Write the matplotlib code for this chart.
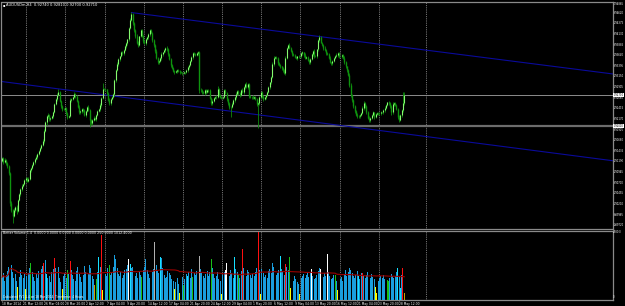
import numpy as np
import matplotlib
matplotlib.use("Agg")
import matplotlib.pyplot as plt
import matplotlib.transforms as mtransforms

# ---------------- data ----------------
first_open = 0.9120
close = [
 0.9126, 0.9116, 0.9121, 0.9114, 0.9107, 0.9091, 0.9022, 0.9006, 0.8992, 0.9006,
 0.9013, 0.9004, 0.9029, 0.9043, 0.9054, 0.9061, 0.9066, 0.9075, 0.9080, 0.9073,
 0.9077, 0.9098, 0.9103, 0.9110, 0.9116, 0.9123, 0.9128, 0.9135, 0.9142, 0.9149,
 0.9156, 0.9165, 0.9188, 0.9208, 0.9222, 0.9225, 0.9215, 0.9218, 0.9222, 0.9231,
 0.9250, 0.9261, 0.9271, 0.9277, 0.9257, 0.9245, 0.9238, 0.9238, 0.9241, 0.9229,
 0.9220, 0.9222, 0.9259, 0.9261, 0.9266, 0.9273, 0.9268, 0.9257, 0.9243, 0.9231,
 0.9234, 0.9238, 0.9236, 0.9225, 0.9234, 0.9243, 0.9236, 0.9213, 0.9206, 0.9213,
 0.9218, 0.9215, 0.9225, 0.9234, 0.9238, 0.9248, 0.9264, 0.9284, 0.9284, 0.9284,
 0.9275, 0.9259, 0.9252, 0.9261, 0.9266, 0.9273, 0.9305, 0.9328, 0.9342, 0.9353,
 0.9360, 0.9369, 0.9367, 0.9374, 0.9383, 0.9390, 0.9399, 0.9425, 0.9445, 0.9457,
 0.9436, 0.9420, 0.9408, 0.9392, 0.9386, 0.9406, 0.9420, 0.9408, 0.9395, 0.9390,
 0.9399, 0.9404, 0.9411, 0.9420, 0.9415, 0.9397, 0.9386, 0.9372, 0.9356, 0.9346,
 0.9349, 0.9356, 0.9365, 0.9369, 0.9374, 0.9379, 0.9376, 0.9365, 0.9353, 0.9340,
 0.9333, 0.9326, 0.9323, 0.9326, 0.9328, 0.9326, 0.9323, 0.9323, 0.9321, 0.9323,
 0.9323, 0.9328, 0.9335, 0.9340, 0.9349, 0.9358, 0.9367, 0.9365, 0.9363, 0.9367,
 0.9369, 0.9282, 0.9282, 0.9277, 0.9275, 0.9282, 0.9277, 0.9282, 0.9282, 0.9264,
 0.9252, 0.9257, 0.9264, 0.9266, 0.9266, 0.9284, 0.9271, 0.9266, 0.9264, 0.9266,
 0.9282, 0.9275, 0.9261, 0.9252, 0.9243, 0.9243, 0.9250, 0.9259, 0.9266, 0.9273,
 0.9280, 0.9275, 0.9271, 0.9282, 0.9277, 0.9289, 0.9296, 0.9289, 0.9296, 0.9268,
 0.9266, 0.9266, 0.9264, 0.9266, 0.9261, 0.9250, 0.9252, 0.9266, 0.9277, 0.9268,
 0.9261, 0.9266, 0.9271, 0.9277, 0.9289, 0.9300, 0.9312, 0.9342, 0.9356, 0.9358,
 0.9356, 0.9344, 0.9340, 0.9337, 0.9333, 0.9328, 0.9321, 0.9356, 0.9379, 0.9386,
 0.9379, 0.9372, 0.9365, 0.9363, 0.9358, 0.9356, 0.9360, 0.9360, 0.9360, 0.9367,
 0.9369, 0.9363, 0.9356, 0.9358, 0.9351, 0.9346, 0.9353, 0.9365, 0.9372, 0.9360,
 0.9360, 0.9376, 0.9397, 0.9404, 0.9392, 0.9386, 0.9379, 0.9374, 0.9367, 0.9365,
 0.9356, 0.9346, 0.9344, 0.9349, 0.9356, 0.9360, 0.9363, 0.9367, 0.9360, 0.9360,
 0.9363, 0.9356, 0.9346, 0.9337, 0.9328, 0.9317, 0.9294, 0.9271, 0.9259, 0.9245,
 0.9234, 0.9225, 0.9222, 0.9222, 0.9225, 0.9229, 0.9241, 0.9252, 0.9245, 0.9231,
 0.9218, 0.9213, 0.9218, 0.9225, 0.9231, 0.9220, 0.9227, 0.9229, 0.9229, 0.9229,
 0.9231, 0.9231, 0.9236, 0.9241, 0.9248, 0.9254, 0.9252, 0.9245, 0.9231, 0.9250,
 0.9252, 0.9248, 0.9238, 0.9220, 0.9213, 0.9225, 0.9236, 0.9252, 0.9271]

# wick lengths above/below the body, in pips
upper_wick_pips = [
 3,2,4,2,3,2,3,4,2,5, 3,4,2,3,2,4,3,2,3,2, 4,3,2,3,2,3,4,2,3,2, 3,5,4,2,3,4,2,3,2,4,
 3,2,4,9,3,2,4,3,2,3, 2,4,5,3,2,4,3,2,3,4, 3,2,4,3,2,3,4,2,3,2, 4,3,2,3,2,4,3,14,4,3,
 2,3,4,2,3,2,4,3,5,3, 2,4,3,2,3,4,2,3,4,5, 4,3,2,4,3,2,3,4,2,3, 4,2,3,3,4,2,3,2,4,3,
 2,3,4,2,3,2,4,3,2,3, 3,2,3,2,2,3,2,3,2,3, 2,3,4,3,2,3,4,2,3,4, 3,4,5,3,4,2,3,4,3,2,
 3,4,2,3,4,8,3,2,3,2, 4,3,2,3,2,3,4,2,3,4, 3,2,4,3,5,3,2,4,3,3, 2,3,4,2,3,2,4,3,2,3,
 3,2,3,4,3,2,3,4,5,3, 2,3,4,3,2,3,4,5,3,2, 4,3,2,3,2,3,2,3,2,3, 3,2,4,3,2,3,4,3,2,4,
 3,2,4,5,3,2,3,4,2,3, 3,4,2,3,2,3,4,2,3,2, 3,2,4,3,2,3,4,5,3,2, 3,2,4,3,2,3,4,5,3,2,
 3,4,2,3,4,2,3,2,3,2, 3,2,3,4,3,2,4,3,2,5, 3,4,2,3,4,2,3,25,7]
lower_wick_pips = [
 3,4,2,5,3,4,6,4,16,3, 4,6,3,2,4,3,2,3,4,3, 3,2,4,3,2,3,2,4,3,2, 3,2,4,3,5,3,4,3,2,3,
 2,3,4,2,3,4,3,2,4,3, 4,3,2,3,2,3,4,3,2,3, 3,4,3,2,4,3,2,16,4,3, 3,2,4,3,2,3,4,3,2,4,
 3,2,4,3,2,3,4,3,2,3, 3,2,3,4,2,3,4,3,2,3, 3,4,5,3,4,3,2,4,3,2, 3,2,4,3,2,3,4,5,3,4,
 3,2,4,3,2,3,4,3,2,4, 3,2,3,2,4,2,3,2,3,2, 3,2,4,3,2,3,4,2,3,2, 3,6,4,3,2,4,3,2,4,3,
 4,3,2,3,4,3,2,3,2,3, 3,2,4,3,5,23,3,2,3,4, 2,3,4,3,2,4,3,2,3,4, 3,4,2,3,2,4,55,3,2,4,
 3,2,4,3,2,3,4,2,3,2, 3,4,2,3,4,3,2,4,3,2, 3,2,4,3,2,3,4,3,2,3, 3,4,2,3,2,4,3,2,3,4,
 2,3,4,3,2,3,4,2,3,2, 3,2,4,3,2,3,2,4,3,2, 3,2,3,4,3,2,4,5,3,4, 4,3,5,3,4,3,2,4,3,4,
 3,4,5,3,2,4,3,2,3,4, 3,2,4,3,2,3,4,3,5,3, 4,3,2,4,5,3,4,3,4]

volume = [
 900,1050,760,980,1150,1300,2440,1400,1100,850,
 1020,760,520,900,1180,980,860,1020,420,940,
 1080,1250,1470,1120,900,760,1010,880,1150,980,
 1240,1350,1480,1600,1020,860,940,720,1100,1210,
 1680,1250,980,1320,860,700,420,940,1060,880,
 1180,1010,1540,1200,980,830,760,1150,1290,1040,
 900,720,980,1350,1100,860,1020,1400,1260,940,
 820,580,840,1100,1720,1300,2600,370,1180,1020,
 960,1250,1380,980,1120,1300,1800,1650,1250,1020,
 940,1100,860,990,1180,1240,1380,1620,1450,1260,
 1300,1150,960,1060,880,1120,990,920,1180,1290,
 1640,1200,1020,880,940,1100,1240,2300,1380,1160,
 1050,1720,1680,1280,990,860,920,1140,1060,980,
 820,760,420,700,880,640,280,760,900,580,
 820,1010,940,1120,860,1240,920,1060,980,1150,
 1300,1760,1240,1080,960,880,1020,1150,940,1100,
 1620,1260,1040,880,960,1100,820,760,210,980,
 1120,1200,1470,1060,940,1180,1050,860,1720,1240,
 1100,1000,880,1150,2040,1280,1060,940,1180,1120,
 980,860,1020,940,1100,1260,2700,1180,210,1240,
 1080,920,1000,860,1140,1220,1060,1480,1300,1150,
 980,1060,1180,1750,1240,1100,980,1430,1320,1180,
 1720,460,880,760,940,820,700,640,210,880,
 940,1020,860,980,1120,900,1060,1220,940,820,
 880,1000,1140,1260,1220,1020,900,1080,960,1820,
 1100,940,820,880,1000,980,760,370,210,840,
 900,760,1020,1180,960,1100,1250,1180,1060,940,
 880,1000,1140,960,820,1060,1080,940,860,1000,
 1120,960,880,1040,900,820,490,280,760,880,
 940,860,1000,820,900,770,740,860,1020,940,
 880,960,1100,1260,920,480,1000,1260,250]

# Better Volume bar classes (all other bars are normal blue)
vol_class = {6:'w', 12:'y', 18:'y', 22:'g', 32:'r', 40:'r', 46:'y', 50:'g', 52:'r',
             71:'o', 72:'g', 76:'r', 77:'y', 82:'g', 97:'w', 107:'g', 117:'k',
             132:'y', 136:'y', 139:'g', 146:'g', 151:'k', 160:'g', 168:'y',
             171:'w', 172:'w', 181:'g', 184:'r', 196:'r', 198:'y', 217:'r',
             220:'g', 221:'y', 228:'y', 237:'w', 244:'w', 249:'w', 255:'g',
             257:'y', 258:'o', 276:'r', 286:'y', 287:'y', 295:'g', 296:'g',
             307:'r', 308:'o'}
cyan_bars = [34, 74, 98, 121, 142, 178, 213, 273, 294, 303, 305]

time_label_bars = list(range(0, 305, 16))
time_labels = ["18 Mar 2014", "21 Mar 12:00", "26 Mar 04:00", "28 Mar 20:00",
               "2 Apr 12:00", "7 Apr 04:00", "9 Apr 20:00", "14 Apr 12:00",
               "17 Apr 04:00", "21 Apr 20:00", "24 Apr 12:00", "29 Apr 04:00",
               "1 May 20:00", "6 May 12:00", "9 May 04:00", "13 May 20:00",
               "16 May 12:00", "21 May 04:00", "23 May 20:00", "28 May 12:00"]
week_separators = [18.5, 48.5, 78.5, 108.5, 138.5, 168.5, 198.5, 228.5, 258.5,
                   288.5, 324.5]

price_ticks = [0.94865, 0.94620, 0.94375, 0.94130, 0.93885, 0.93640, 0.93395,
               0.93150, 0.92905, 0.92660, 0.92415, 0.92170, 0.91925, 0.91680,
               0.91435, 0.91190, 0.90945, 0.90700, 0.90455, 0.90210, 0.89965,
               0.89720]
bid_price = 0.92710
hline_price = 0.92000
upper_trend = [(99, 0.9461), (245, 0.9405)]
lower_trend = [(0, 0.9302), (300, 0.9185)]
vol_max = 2780.0

title_text = "AUDUSDm,H4  0.92740 0.92810 0.92700 0.92710"
vol_text = "Better Volume 1.4  0.0000 0.0000 0.0000 0.0000 0.0000 250.0000 1012.4000"
calc_text = "Calculated FV1 1.4 on 18 Mar 2014. Timeframe: 4 Hours."

# ---------------- figure ----------------
W, H = 625, 306
fig = plt.figure(figsize=(W / 100, H / 100), dpi=100, facecolor='black')


def rect(x0, y0, x1, y1):
    return [x0 / W, 1 - y1 / H, (x1 - x0) / W, (y1 - y0) / H]


ax = fig.add_axes(rect(1.5, 1.5, 612.5, 228.5), facecolor='black')
axv = fig.add_axes(rect(1.5, 230.5, 612.5, 299.5), facecolor='black', sharex=ax)

FS = 2.6      # panel captions
FS_AX = 2.15  # time labels
FS_P = 1.85   # price labels
frame = '#8a8a8a'
for a in (ax, axv):
    for s in a.spines.values():
        s.set_color(frame)
        s.set_linewidth(0.9)

n = len(close)
x = np.arange(n)
c = np.array(close)
o = np.r_[first_open, c[:-1]]
hi = np.maximum(o, c) + np.array(upper_wick_pips) * 1e-4
lo = np.minimum(o, c) - np.array(lower_wick_pips) * 1e-4

ax.set_xlim(-0.5, 467.5)
ax.set_ylim(0.896345, 0.948555)

# grid (week separators)
for g in week_separators:
    ax.axvline(g, color='#9a9a9a', lw=0.6, ls=(0, (1, 1.2)), zorder=1)
    axv.axvline(g, color='#9a9a9a', lw=0.6, ls=(0, (1, 1.2)), zorder=1)

# horizontal lines
ax.axhline(bid_price, color='#8c8c8c', lw=0.7, zorder=2)
ax.axhline(hline_price, color='#6c6c6c', lw=1.6, zorder=2)

# trend lines
(x1, y1), (x2, y2) = upper_trend
s1 = (y2 - y1) / (x2 - x1)
ax.plot([x1, 467.5], [y1, y1 + s1 * (467.5 - x1)], color='#0a0a9a', lw=0.8, zorder=2)
(x1, y1), (x2, y2) = lower_trend
s2 = (y2 - y1) / (x2 - x1)
ax.plot([-0.5, 467.5], [y1 + s2 * (-0.5 - x1), y1 + s2 * (467.5 - x1)],
        color='#0a0a9a', lw=0.8, zorder=2)

# candles
wick_col = '#0c8a0c'
bull_col = '#86f870'
bear_col = '#0e940e'
ax.vlines(x, lo, hi, color=wick_col, lw=0.6, zorder=3)
bull = c >= o
ax.vlines(x[~bull], c[~bull], o[~bull], color=bear_col, lw=1.0, zorder=4)
ax.vlines(x[bull], o[bull], c[bull], color=bull_col, lw=0.8, zorder=5)

# price axis
ax.yaxis.tick_right()
ax.set_yticks(price_ticks)
ax.set_yticklabels([f"{p:.5f}" for p in price_ticks])
ax.tick_params(axis='y', colors='white', labelsize=FS_P, length=1.0, width=0.4, pad=0.3)
ax.get_yticklabels()[0].set_va('top')
ax.tick_params(axis='x', bottom=False, labelbottom=False)
blend = mtransforms.blended_transform_factory(ax.transAxes, ax.transData)
for p in (bid_price, hline_price):
    ax.text(1.0018, p, f"{p:.5f}", transform=blend,
            ha='left', va='center', fontsize=FS_P, color='black', zorder=10, clip_on=False,
            bbox=dict(boxstyle='square,pad=0.12', fc='white', ec='none'))

# volume
colmap = {'b': '#1a9ede', 'c': '#16e0ff', 'r': '#ff1010', 'w': '#ffffff',
          'g': '#18c018', 'y': '#ffff00', 'o': '#c8a000', 'k': '#b0b0b0'}
codes = ['b'] * n
for b in cyan_bars:
    codes[b] = 'c'
for b, k in vol_class.items():
    codes[b] = k
vcols = [colmap[k] for k in codes]
vol = np.array(volume, dtype=float)
axv.bar(x, vol, width=0.72, color=vcols, linewidth=0, zorder=3)
win = 60
ma = np.convolve(vol, np.ones(win), mode='full')[:n] / np.minimum(np.arange(1, n + 1), win)
axv.plot(x, ma, color='#9a0000', lw=0.8, zorder=4)
axv.set_ylim(0, vol_max)
axv.set_yticks([])
axv.set_xticks(time_label_bars)
axv.set_xticklabels(time_labels)
axv.tick_params(axis='x', colors='white', labelsize=FS_AX, length=1.0, width=0.4, pad=0.6)
for t in axv.get_xticklabels():
    t.set_ha('left')

# texts
fig.text(2.5 / W, 1 - 5.5 / H, "\u25aa", color='white', fontsize=FS, va='center', ha='left')
fig.text(6 / W, 1 - 5.5 / H, title_text, color='white', fontsize=FS, va='center', ha='left')
fig.text(3 / W, 1 - 233.5 / H, vol_text, color='white', fontsize=FS * 0.9, va='center', ha='left')
fig.text(3 / W, 1 - 297.3 / H, calc_text, color='white', fontsize=FS * 0.8, va='center', ha='left')
fig.text(613.3 / W, 1 - 232.0 / H, f"{vol_max:.1f}", color='white', fontsize=FS_P, va='center', ha='left')
fig.text(613.3 / W, 1 - 297.5 / H, "0", color='white', fontsize=FS_P, va='center', ha='left')

fig.savefig('out.png', dpi=100, facecolor='black')
